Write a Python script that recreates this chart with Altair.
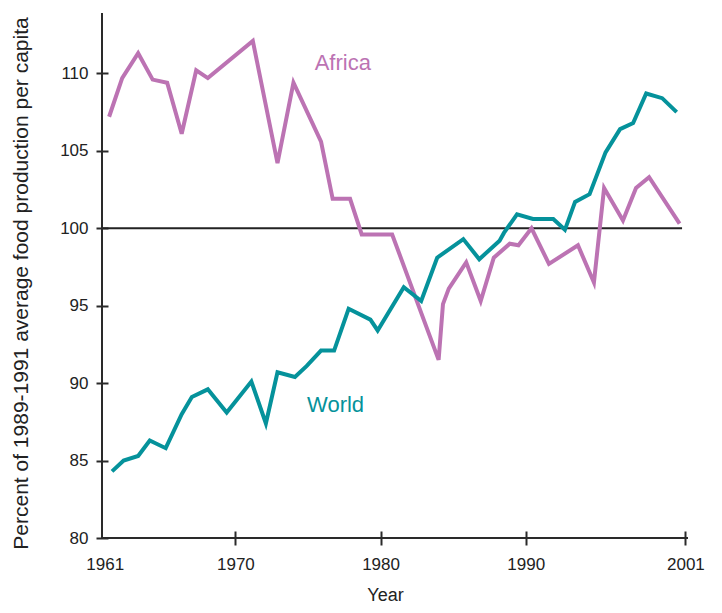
import altair as alt
import pandas as pd

# ---- data ----
africa_year = [1961.3, 1962.2, 1963.3, 1964.3, 1965.3, 1966.3, 1967.3, 1968.1, 1971.2,
               1972.9, 1974.0, 1975.9, 1976.7, 1977.9, 1978.7, 1980.8, 1984.0, 1984.3,
               1984.7, 1985.9, 1986.9, 1987.8, 1988.9, 1989.5, 1990.4, 1991.6, 1993.6,
               1994.7, 1995.4, 1996.7, 1997.6, 1998.5, 2000.6]
africa_value = [107.2, 109.7, 111.3, 109.6, 109.4, 106.1, 110.2, 109.7, 112.1,
                104.2, 109.4, 105.6, 101.9, 101.9, 99.6, 99.6, 91.5, 95.1,
                96.1, 97.8, 95.3, 98.1, 99.0, 98.9, 100.0, 97.7, 98.9,
                96.5, 102.6, 100.5, 102.6, 103.3, 100.3]

world_year = [1961.5, 1962.3, 1963.3, 1964.1, 1965.2, 1966.3, 1967.0, 1968.1, 1969.4,
              1971.1, 1972.1, 1972.9, 1974.1, 1974.9, 1975.9, 1976.8, 1977.8, 1979.3,
              1979.8, 1981.6, 1982.8, 1983.9, 1985.7, 1986.8, 1988.2, 1988.5, 1989.4,
              1990.5, 1991.9, 1992.7, 1993.4, 1994.4, 1995.5, 1996.5, 1997.4, 1998.3,
              1999.4, 2000.4]
world_value = [84.3, 85.0, 85.3, 86.3, 85.8, 88.0, 89.1, 89.6, 88.1,
               90.1, 87.4, 90.7, 90.4, 91.1, 92.1, 92.1, 94.8, 94.1,
               93.4, 96.2, 95.3, 98.1, 99.3, 98.0, 99.2, 99.7, 100.9,
               100.6, 100.6, 99.9, 101.7, 102.2, 104.9, 106.4, 106.8, 108.7,
               108.4, 107.5]

series_names = ["Africa", "World"]
series_colors = ["#BC73B3", "#05929B"]
label_year = [1977.4, 1976.9]
label_value = [110.7, 88.6]

x_ticks = [1961, 1970, 1980, 1990, 2001]
y_ticks = [80, 85, 90, 95, 100, 105, 110]

XMIN, XMAX = 1960.81, 2001.18
YMIN, YMAX = 80, 113.9
REF_VALUE = 100
REF_END = 2000.77

FONT = "Liberation Sans"
AXIS_COLOR = "#2a2a2a"

df = pd.concat([
    pd.DataFrame({"year": africa_year, "value": africa_value, "series": "Africa"}),
    pd.DataFrame({"year": world_year, "value": world_value, "series": "World"}),
])
labels = pd.DataFrame({"year": label_year, "value": label_value, "series": series_names})

xscale = alt.Scale(domain=[XMIN, XMAX], nice=False, zero=False)
yscale = alt.Scale(domain=[YMIN, YMAX], nice=False, zero=False)
cscale = alt.Scale(domain=series_names, range=series_colors)

xaxis = alt.Axis(
    values=x_ticks, format="d", title="Year", domain=False, grid=False,
    offset=-7, tickSize=14, tickWidth=2, tickColor=AXIS_COLOR,
    tickOpacity={"condition": {"test": "datum.value == 1961", "value": 0}, "value": 1},
    labelFont=FONT, labelFontSize=17, labelColor="#222", labelPadding=11,
    labelFlush=False,
    titleFont=FONT, titleFontSize=18, titleFontWeight="normal", titleColor="#222",
    titleX=283, titleY=69, titleBaseline="alphabetic", titleAlign="center",
)
yaxis = alt.Axis(
    values=y_ticks, title="Percent of 1989-1991 average food production per capita",
    domain=False, grid=False, offset=-6, tickSize=12, tickWidth=2, tickColor=AXIS_COLOR,
    labelFont=FONT, labelFontSize=17, labelColor="#222", labelPadding=8,
    titleFont=FONT, titleFontSize=21, titleFontWeight="normal", titleColor="#222",
    titleAngle=270, titleX=-87, titleY=270, titleBaseline="middle", titleAlign="center",
)

lines = alt.Chart(df).mark_line(strokeWidth=4, strokeJoin="miter").encode(
    x=alt.X("year:Q", scale=xscale, axis=xaxis),
    y=alt.Y("value:Q", scale=yscale, axis=yaxis),
    color=alt.Color("series:N", scale=cscale, legend=None),
)

ref = alt.Chart(pd.DataFrame({"v": [REF_VALUE]})).mark_rule(color="#222", strokeWidth=2).encode(
    y=alt.Y("v:Q", scale=yscale),
    x=alt.datum(XMIN, scale=xscale),
    x2=alt.datum(REF_END),
)
xline = alt.Chart(pd.DataFrame({"v": [YMIN]})).mark_rule(color=AXIS_COLOR, strokeWidth=2).encode(
    y=alt.Y("v:Q", scale=yscale),
)
yline = alt.Chart(pd.DataFrame({"v": [XMIN]})).mark_rule(color=AXIS_COLOR, strokeWidth=2).encode(
    x=alt.X("v:Q", scale=xscale),
)

text = alt.Chart(labels).mark_text(font=FONT, fontSize=22).encode(
    x=alt.X("year:Q", scale=xscale),
    y=alt.Y("value:Q", scale=yscale),
    text="series:N",
    color=alt.Color("series:N", scale=cscale, legend=None),
)

chart = alt.layer(ref, lines, xline, yline, text).properties(
    width=586, height=525,
    padding={"left": 94, "top": 5, "right": 26, "bottom": 67},
    autosize="none",
    background="white",
).configure_view(stroke=None)

chart.save("out.html", embed_options={"renderer": "svg", "actions": False})
